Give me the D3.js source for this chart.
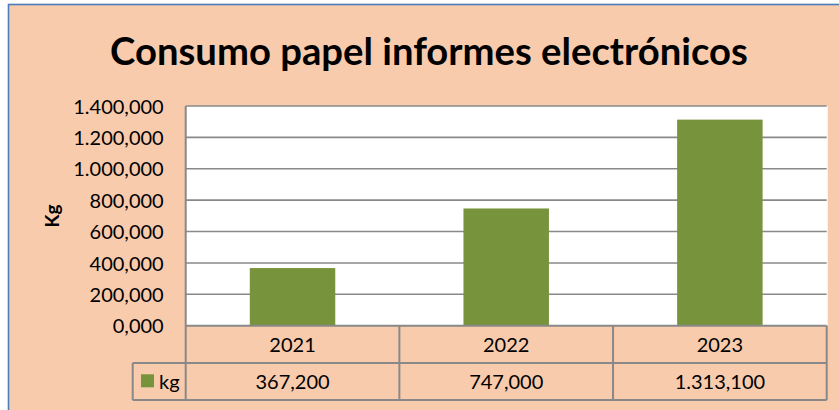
<!DOCTYPE html>
<html>
<head>
<meta charset="utf-8">
<script src="https://cdn.jsdelivr.net/npm/d3@7"></script>
<style>
    body { margin: 0; background: #fff; }
    svg text { font-family: Lato, "Open Sans", sans-serif; fill: #000; }
</style>
</head>
<body>
<svg id="chart" width="839" height="410"></svg>
<script>
// data
let years = ['2021', '2022', '2023'];
let kg = [367.2, 747.0, 1313.1];
let yTicks = [0, 200, 400, 600, 800, 1000, 1200, 1400];
let seriesName = 'kg';
let title = 'Consumo papel informes electrónicos';
let yTitle = 'Kg';

let svg = d3.select('#chart');

// plot area
let plot = {left: 185.7, right: 826.7, top: 106, bottom: 325.7};
let rowH = 37.2;
let legendLeft = 132.7;
let gridColor = '#898989';

let esLocale = d3.formatLocale({decimal: ',', thousands: '.', grouping: [3], currency: ['', '']});
let fmt = esLocale.format(',.3f');

// chart background + border
svg.append('rect')
    .attr('x', 8.5).attr('y', 4.5)
    .attr('width', 860).attr('height', 430)
    .attr('fill', '#f8cbad')
    .attr('stroke', '#4a7ebb')
    .attr('stroke-width', 1.6);

// title, fitted to the width seen in the picture
let titleText = svg.append('text')
    .attr('x', 429).attr('y', 65)
    .attr('text-anchor', 'middle')
    .style('font-weight', 'bold')
    .style('font-size', '36px')
    .text(title);
let tw = titleText.node().getComputedTextLength();
titleText.style('font-size', (36 * 638 / tw) + 'px');

let xScale = d3.scaleBand()
    .domain(years)
    .range([plot.left, plot.right])
    .paddingInner(0.6)
    .paddingOuter(0.3);

let yScale = d3.scaleLinear()
    .domain([0, 1400])
    .range([plot.bottom, plot.top]);

// white plot area
svg.append('rect')
    .attr('x', plot.left).attr('y', plot.top)
    .attr('width', plot.right - plot.left + 1)
    .attr('height', plot.bottom - plot.top)
    .attr('fill', '#fff');

// gridlines
svg.append('g')
    .selectAll('line')
    .data(yTicks.slice(1))
    .enter()
    .append('line')
    .attr('x1', plot.left).attr('x2', plot.right)
    .attr('y1', d => yScale(d)).attr('y2', d => yScale(d))
    .attr('stroke', gridColor)
    .attr('stroke-width', 1.6);

// y axis
let yAxis = d3.axisLeft(yScale)
    .tickValues(yTicks)
    .tickFormat(fmt)
    .tickSize(0)
    .tickPadding(22);

let yg = svg.append('g')
    .attr('transform', `translate(${plot.left},0)`)
    .call(yAxis);
yg.select('.domain').remove();
yg.selectAll('text')
    .style('font-size', '20px')
    .attr('dy', '0.36em')
    .attr('font-family', null);

svg.append('text')
    .attr('transform', 'translate(59,216) rotate(-90)')
    .attr('text-anchor', 'middle')
    .style('font-weight', 'bold')
    .style('font-size', '19px')
    .text(yTitle);

// bars
svg.append('g')
    .selectAll('rect')
    .data(years.map((y, i) => ({year: y, value: kg[i]})))
    .enter()
    .append('rect')
    .attr('x', d => xScale(d.year))
    .attr('y', d => yScale(d.value))
    .attr('width', xScale.bandwidth())
    .attr('height', d => yScale(0) - yScale(d.value))
    .attr('fill', '#77933c');

// data table below the plot
let step = xScale.step();
let colEdges = years.map((y, i) => plot.left + i * step).concat([plot.right]);
let row1 = plot.bottom, row2 = plot.bottom + rowH, row3 = plot.bottom + 2 * rowH;

let table = svg.append('g')
    .attr('stroke', gridColor)
    .attr('stroke-width', 2);

table.append('line').attr('x1', plot.left).attr('x2', plot.right).attr('y1', row1).attr('y2', row1);
table.append('line').attr('x1', legendLeft).attr('x2', plot.right).attr('y1', row2).attr('y2', row2);
table.append('line').attr('x1', legendLeft).attr('x2', plot.right).attr('y1', row3).attr('y2', row3);
table.append('line').attr('x1', legendLeft).attr('x2', legendLeft).attr('y1', row2).attr('y2', row3);
table.append('line').attr('x1', plot.left).attr('x2', plot.left).attr('y1', plot.top).attr('y2', row3);
table.selectAll('.col')
    .data(colEdges.slice(1))
    .enter()
    .append('line')
    .attr('class', 'col')
    .attr('x1', d => d).attr('x2', d => d)
    .attr('y1', row1).attr('y2', row3);

svg.append('g')
    .selectAll('text')
    .data(years)
    .enter()
    .append('text')
    .attr('x', d => xScale(d) + xScale.bandwidth() / 2)
    .attr('y', row1 + 26)
    .attr('text-anchor', 'middle')
    .style('font-size', '20px')
    .text(d => d);

svg.append('g')
    .selectAll('text')
    .data(kg)
    .enter()
    .append('text')
    .attr('x', (d, i) => xScale(years[i]) + xScale.bandwidth() / 2)
    .attr('y', row2 + 26)
    .attr('text-anchor', 'middle')
    .style('font-size', '20px')
    .text(d => fmt(d));

// legend key in the table
svg.append('rect')
    .attr('x', 141).attr('y', 374.3)
    .attr('width', 13).attr('height', 13)
    .attr('fill', '#77933c');
svg.append('text')
    .attr('x', 159).attr('y', row2 + 26)
    .style('font-size', '20px')
    .text(seriesName);
</script>
</body>
</html>
